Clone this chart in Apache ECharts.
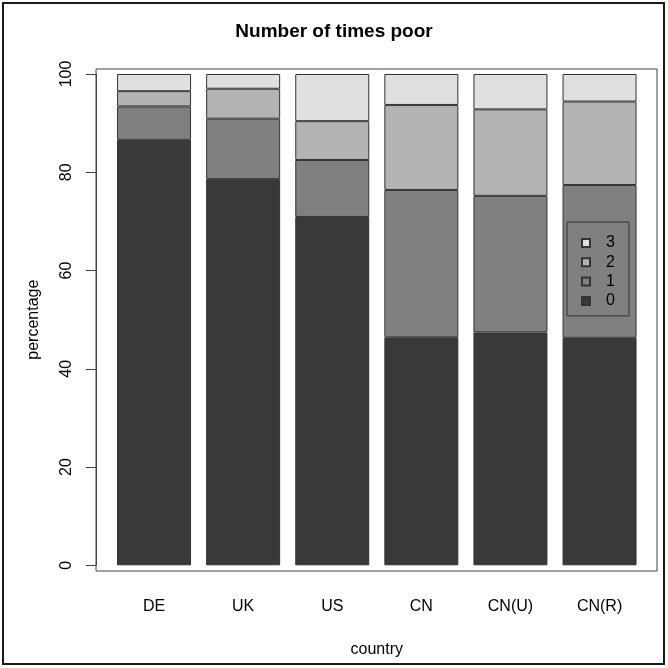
<!DOCTYPE html>
<html>
<head>
<meta charset="utf-8">
<script src="https://cdn.jsdelivr.net/npm/echarts@6/dist/echarts.min.js"></script>
<style>
  html, body { margin: 0; padding: 0; background: #fff; }
  #chart { width: 668px; height: 668px; }
</style>
</head>
<body>
<div id="chart"></div>
<script>
// Share of people by number of times poor, per country group (percent)
const countries = ['DE', 'UK', 'US', 'CN', 'CN(U)', 'CN(R)'];
const times0 = [86.6, 78.6, 70.9, 46.4, 47.4, 46.3];
const times1 = [6.8, 12.3, 11.6, 30.0, 27.8, 31.1];
const times2 = [3.1, 6.1, 7.9, 17.3, 17.6, 17.0];
const times3 = [3.5, 3.0, 9.6, 6.3, 7.2, 5.6];
const yTicks = [0, 20, 40, 60, 80, 100];

const font = 'Liberation Sans, Arial, Helvetica, sans-serif';
const fills = ['#393939', '#808080', '#b3b3b3', '#e0e0e0'];

const chart = echarts.init(document.getElementById('chart'));

function stackSeries(name, values, color) {
  return {
    name: name,
    type: 'bar',
    stack: 'total',
    xAxisIndex: 0,
    yAxisIndex: 0,
    data: values,
    barWidth: 74,
    itemStyle: { color: color, borderColor: '#333', borderWidth: 1 },
    emphasis: { disabled: true },
    animation: false
  };
}

chart.setOption({
  animation: false,
  title: {
    text: 'Number of times poor',
    left: 'center',
    top: 17,
    textStyle: { fontFamily: font, fontSize: 19, fontWeight: 'bold', color: '#000' }
  },
  graphic: [{
    type: 'rect',
    shape: { x: 3, y: 3, width: 661, height: 661 },
    style: { fill: 'none', stroke: '#1a1a1a', lineWidth: 2 },
    silent: true
  }],
  legend: {
    orient: 'vertical',
    left: 567,
    top: 222,
    data: ['3', '2', '1', '0'],
    itemWidth: 8,
    itemHeight: 8,
    itemGap: 3.3,
    padding: [13, 14, 7, 14],
    borderColor: '#333',
    borderWidth: 1,
    selectedMode: false,
    icon: 'rect',
    textStyle: { fontFamily: font, fontSize: 16, color: '#000', lineHeight: 14, padding: [0, 0, 0, 11] }
  },
  grid: [
    { left: 109.5, width: 534.6, top: 74, height: 491.3, containLabel: false },
    { left: 96, width: 561, top: 69, height: 502, show: true, borderColor: '#444', borderWidth: 1, backgroundColor: 'transparent' }
  ],
  xAxis: [
    {
      type: 'category',
      gridIndex: 0,
      data: countries,
      axisLine: { show: false },
      axisTick: { show: false },
      axisLabel: { margin: 33, fontFamily: font, fontSize: 16, color: '#000' },
      name: 'country',
      nameLocation: 'middle',
      nameGap: 76,
      nameTextStyle: { fontFamily: font, fontSize: 16, color: '#000' }
    },
    { type: 'value', gridIndex: 1, show: false }
  ],
  yAxis: [
    {
      type: 'value',
      gridIndex: 0,
      min: yTicks[0],
      max: yTicks[yTicks.length - 1],
      interval: 20,
      offset: 13.5,
      axisLine: { show: true, lineStyle: { color: '#444', width: 1 } },
      axisTick: { show: true, inside: false, length: 10, lineStyle: { color: '#444' } },
      splitLine: { show: false },
      axisLabel: { rotate: 90, margin: 21, fontFamily: font, fontSize: 16, color: '#000' },
      name: 'percentage',
      nameLocation: 'middle',
      nameGap: 54,
      nameTextStyle: { fontFamily: font, fontSize: 16, color: '#000' }
    },
    { type: 'value', gridIndex: 1, show: false }
  ],
  series: [
    stackSeries('0', times0, fills[0]),
    stackSeries('1', times1, fills[1]),
    stackSeries('2', times2, fills[2]),
    stackSeries('3', times3, fills[3])
  ]
});
</script>
</body>
</html>
